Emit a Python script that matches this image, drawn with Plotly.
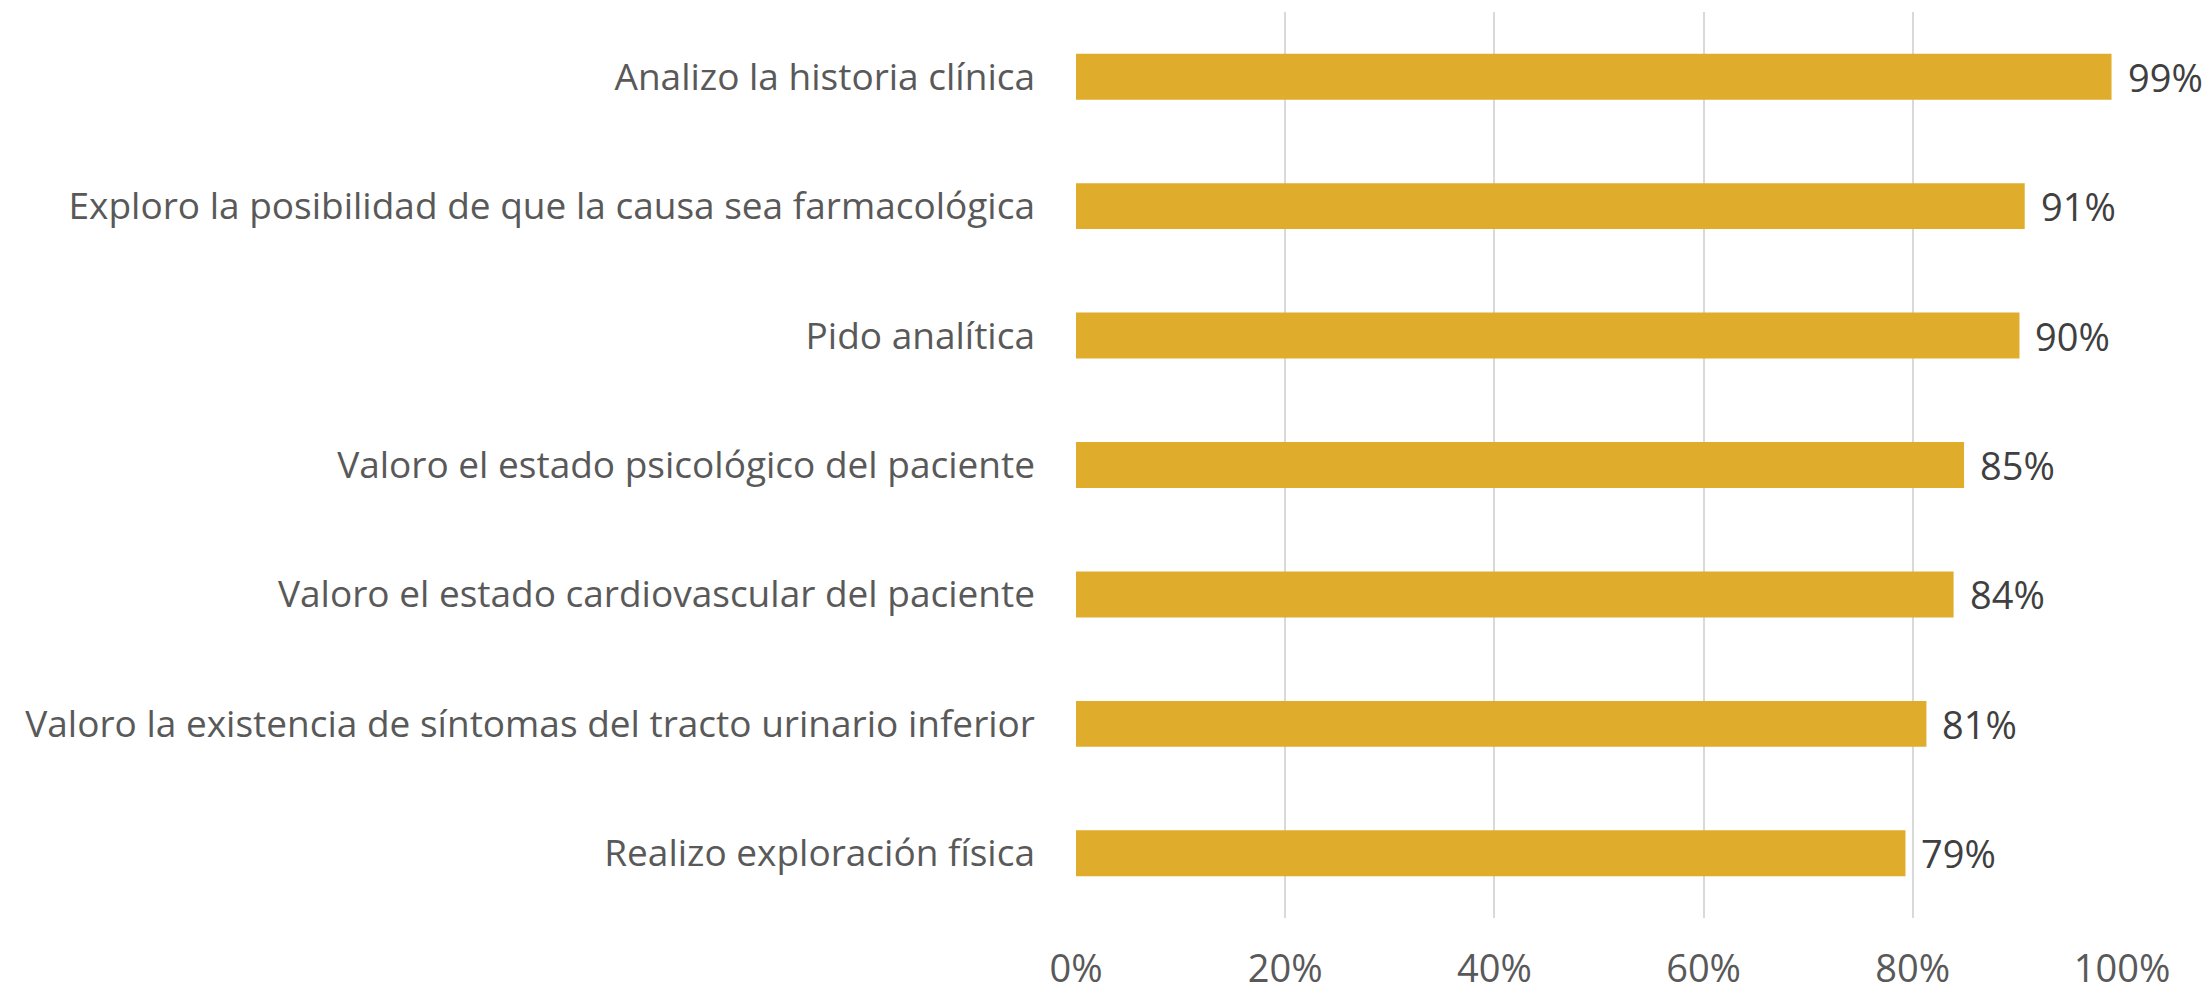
import plotly.graph_objects as go

categories = [
    "Analizo la historia clínica",
    "Exploro la posibilidad de que la causa sea farmacológica",
    "Pido analítica",
    "Valoro el estado psicológico del paciente",
    "Valoro el estado cardiovascular del paciente",
    "Valoro la existencia de síntomas del tracto urinario inferior",
    "Realizo exploración física",
]
values = [99.0, 90.7, 90.2, 84.9, 83.9, 81.3, 79.3]
labels = ["99%", "91%", "90%", "85%", "84%", "81%", "79%"]
tick_vals = [0, 20, 40, 60, 80, 100]
tick_text = ["0%", "20%", "40%", "60%", "80%", "100%"]

FONT = "Open Sans"
TXT = "#595959"

fig = go.Figure()
fig.add_trace(go.Bar(
    x=values, y=categories, orientation="h",
    marker=dict(color="#DFAD2B", line=dict(width=0)),
    hoverinfo="skip",
))

for v, c, t in zip(values, categories, labels):
    fig.add_annotation(
        x=v, y=c, text=t, showarrow=False, xanchor="left", yanchor="middle",
        xshift=14, font=dict(family=FONT, size=38, color="#404040"),
    )

fig.update_layout(
    width=2206, height=992,
    margin=dict(l=1076, r=84, t=12, b=74),
    paper_bgcolor="white", plot_bgcolor="white",
    showlegend=False, bargap=0.645,
    font=dict(family=FONT, size=37, color=TXT),
)
fig.update_xaxes(
    range=[0, 100], tickvals=tick_vals, ticktext=tick_text,
    showgrid=True, gridcolor="#D9D9D9", gridwidth=2,
    zeroline=False, showline=False, ticks="",
    ticklabelstandoff=25, automargin=False,
    tickfont=dict(family=FONT, size=38, color=TXT),
)
fig.update_yaxes(
    categoryorder="array", categoryarray=categories, autorange="reversed",
    showgrid=False, zeroline=False, showline=False, ticks="",
    ticklabelstandoff=40, automargin=False,
    tickfont=dict(family=FONT, size=37, color=TXT),
)

fig.write_html(
    "out.html",
    config={"displayModeBar": False, "staticPlot": True},
    post_script="document.body.style.margin='0';document.body.style.overflow='hidden';",
)
